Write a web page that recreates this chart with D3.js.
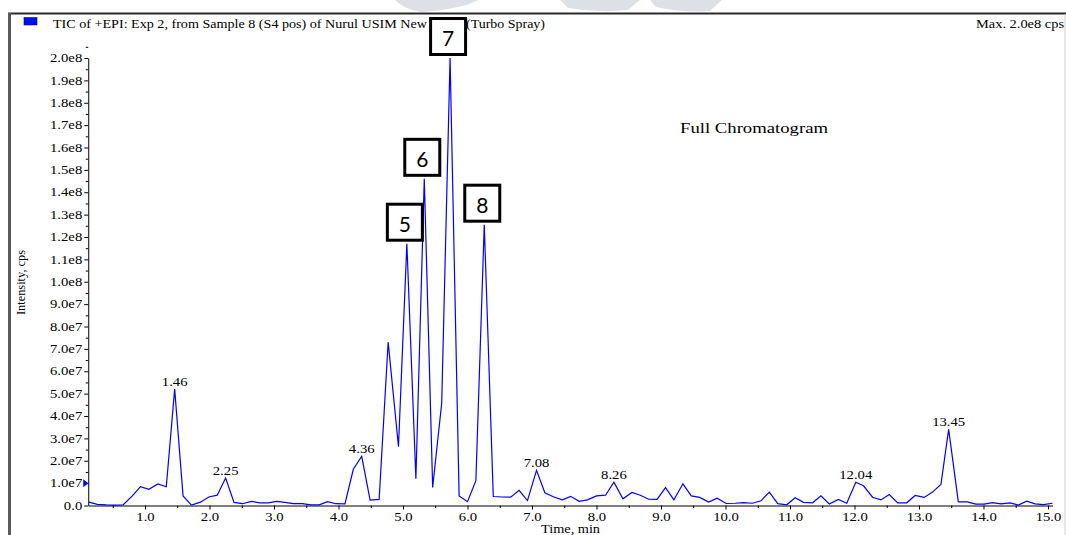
<!DOCTYPE html>
<html>

<head>
    <title>TIC Full Chromatogram</title>
    <script src="https://cdnjs.cloudflare.com/ajax/libs/d3/7.8.5/d3.min.js" type="text/JavaScript"></script>
    <style>
        body { margin: 0; background: #fff; }
        svg { display: block; font-family: "Liberation Serif", "Times New Roman", serif; }
    </style>
</head>

<body>
    <svg id="chart" width="1066" height="535"></svg>
    <script>
        // retention time (min) and intensity (units of 1e7 cps)
        var times = [0.13, 0.26, 0.40, 0.53, 0.66, 0.80, 0.93, 1.06, 1.20, 1.33,
            1.46, 1.59, 1.72, 1.86, 1.99, 2.12, 2.25, 2.38, 2.51, 2.65,
            2.78, 2.91, 3.04, 3.17, 3.30, 3.44, 3.57, 3.70, 3.83, 3.96,
            4.10, 4.23, 4.36, 4.49, 4.63, 4.77, 4.93, 5.06, 5.20, 5.33,
            5.46, 5.60, 5.73, 5.87, 6.00, 6.13, 6.26, 6.40, 6.54, 6.67,
            6.80, 6.93, 7.07, 7.20, 7.33, 7.47, 7.60, 7.73, 7.86, 8.00,
            8.14, 8.27, 8.41, 8.55, 8.68, 8.81, 8.94, 9.07, 9.20, 9.34,
            9.47, 9.60, 9.74, 9.87, 10.01, 10.15, 10.28, 10.42, 10.55, 10.68,
            10.81, 10.95, 11.08, 11.21, 11.35, 11.48, 11.61, 11.75, 11.88, 12.02,
            12.14, 12.28, 12.41, 12.54, 12.67, 12.81, 12.94, 13.08, 13.21, 13.34,
            13.46, 13.61, 13.75, 13.88, 14.01, 14.14, 14.27, 14.41, 14.54, 14.67,
            14.80, 14.93, 15.07]
        var intensity = [0.15, 0.05, 0.03, 0.02, 0.03, 0.42, 0.84, 0.72, 0.96, 0.84,
            5.2, 0.43, 0.02, 0.15, 0.38, 0.46, 1.23, 0.14, 0.08, 0.18,
            0.12, 0.12, 0.18, 0.14, 0.08, 0.08, 0.03, 0.03, 0.17, 0.08,
            0.07, 1.62, 2.2, 0.24, 0.27, 7.3, 2.63, 11.7, 1.2, 14.6,
            0.81, 4.57, 20.0, 0.43, 0.17, 1.11, 12.55, 0.4, 0.38, 0.37,
            0.68, 0.22, 1.57, 0.57, 0.39, 0.25, 0.41, 0.19, 0.25, 0.43,
            0.46, 1.04, 0.3, 0.58, 0.46, 0.28, 0.27, 0.8, 0.25, 0.97,
            0.43, 0.36, 0.15, 0.33, 0.09, 0.1, 0.13, 0.1, 0.21, 0.6,
            0.08, 0.03, 0.35, 0.14, 0.12, 0.43, 0.07, 0.27, 0.1, 1.04,
            0.88, 0.37, 0.25, 0.49, 0.12, 0.12, 0.45, 0.36, 0.6, 0.94,
            3.4, 0.16, 0.16, 0.06, 0.06, 0.13, 0.07, 0.12, 0.02, 0.19,
            0.07, 0.04, 0.1]

        var peakTimes = [1.46, 2.25, 4.36, 7.07, 8.27, 12.02, 13.46]
        var peakLabels = ["1.46", "2.25", "4.36", "7.08", "8.26", "12.04", "13.45"]

        var boxTimes = [5.06, 5.33, 5.73, 6.26]
        var boxLabels = ["5", "6", "7", "8"]

        var yTickValues = [0, 1, 2, 3, 4, 5, 6, 7, 8, 9, 10, 11, 12, 13, 14, 15, 16, 17, 18, 19, 20]
        var yTickLabels = ["0.0", "1.0e7", "2.0e7", "3.0e7", "4.0e7", "5.0e7", "6.0e7", "7.0e7", "8.0e7", "9.0e7",
            "1.0e8", "1.1e8", "1.2e8", "1.3e8", "1.4e8", "1.5e8", "1.6e8", "1.7e8", "1.8e8", "1.9e8", "2.0e8"]
        var xTickValues = [1, 2, 3, 4, 5, 6, 7, 8, 9, 10, 11, 12, 13, 14, 15]
        var xTickLabels = ["1.0", "2.0", "3.0", "4.0", "5.0", "6.0", "7.0", "8.0", "9.0", "10.0",
            "11.0", "12.0", "13.0", "14.0", "15.0"]

        var titleText = "TIC of +EPI: Exp 2, from Sample 8 (S4 pos) of Nurul USIM New"
        var titleTail = "(Turbo Spray)"
        var maxText = "Max. 2.0e8 cps"

        var svg = d3.select("#chart")
        var stretch = 1.28

        var x = d3.scaleLinear().domain([0.12, 15.07]).range([88.24, 1052.5])
        var y = d3.scaleLinear().domain([0, 20]).range([505.5, 58])
        var x0 = x.range()[0]
        var yBase = y(0)

        // faint watermark at the top edge
        var wm = svg.append("g").style("fill", "#dde1e6")
        wm.append("path").attr("d", "M395,0 L478,0 Q462,9 420,12 Q402,8 395,0 Z")
        wm.append("path").attr("d", "M560,0 L640,0 L628,10 Q598,13 568,8 Z")
        wm.append("path").attr("d", "M650,0 L722,0 L710,11 Q684,13 656,7 Z")

        // frame
        svg.append("line").attr("x1", 8).attr("x2", 1066).attr("y1", 13.5).attr("y2", 13.5)
            .style("stroke", "#2a2a2a").style("stroke-width", "2px")
        svg.append("line").attr("x1", 9.5).attr("x2", 9.5).attr("y1", 13).attr("y2", 535)
            .style("stroke", "#5a5a5a").style("stroke-width", "3px")
        svg.append("line").attr("x1", 1065).attr("x2", 1065).attr("y1", 14).attr("y2", 535)
            .style("stroke", "#d0d0d0").style("stroke-width", "1px")

        // header
        svg.append("rect").attr("x", 24).attr("y", 17.5).attr("width", 13).attr("height", 7.5)
            .style("fill", "#0010f5").style("stroke", "#0a0a80").style("stroke-width", "0.6px")
        svg.append("text").attr("x", 53).attr("y", 28).attr("textLength", 374)
            .attr("lengthAdjust", "spacingAndGlyphs").style("font-size", "12.5px").text(titleText)
        svg.append("text").attr("x", 466).attr("y", 28).attr("textLength", 79)
            .attr("lengthAdjust", "spacingAndGlyphs").style("font-size", "12.5px").text(titleTail)
        svg.append("text").attr("x", 976).attr("y", 28).attr("textLength", 88)
            .attr("lengthAdjust", "spacingAndGlyphs").style("font-size", "12.5px").text(maxText)

        svg.append("text").attr("x", 680).attr("y", 133).attr("textLength", 148)
            .attr("lengthAdjust", "spacingAndGlyphs").style("font-size", "15.5px").text("Full Chromatogram")

        // y axis
        var yAxis = d3.axisLeft(y).tickValues(yTickValues)
            .tickFormat((d, i) => yTickLabels[i]).tickSize(4).tickSizeOuter(0)
        var yG = svg.append("g").attr("transform", `translate(${x0},0)`).call(yAxis)
        yG.selectAll("text")
            .attr("x", 0)
            .attr("transform", `translate(-6,0) scale(${stretch},1)`)
        yG.selectAll(".tick").filter(d => d > 0).append("line")
            .attr("x2", -2.5).attr("y1", y(0.5) - y(0)).attr("y2", y(0.5) - y(0))
            .style("stroke", "#000")

        // x axis
        var xAxis = d3.axisBottom(x).tickValues(xTickValues)
            .tickFormat((d, i) => xTickLabels[i]).tickSize(4).tickPadding(3).tickSizeOuter(0)
        var xG = svg.append("g").attr("transform", `translate(0,${yBase})`).call(xAxis)
        xG.selectAll("text").attr("transform", `scale(${stretch},1)`)
        xG.selectAll(".tick").append("line")
            .attr("x1", x(0.5) - x(1)).attr("x2", x(0.5) - x(1)).attr("y2", 2.5)
            .style("stroke", "#000")

        svg.selectAll(".tick text").style("font-family", "'Liberation Serif', serif")
            .style("font-size", "11.5px").style("fill", "#000")

        svg.append("text").attr("x", 541).attr("y", 533).attr("textLength", 59)
            .attr("lengthAdjust", "spacingAndGlyphs").style("font-size", "11.5px").text("Time, min")
        svg.append("text").attr("transform", "translate(24.5,282.5) rotate(-90)")
            .attr("text-anchor", "middle").attr("textLength", 65)
            .attr("lengthAdjust", "spacingAndGlyphs").style("font-size", "11.5px").text("Intensity, cps")

        // marker at 1.0e7
        svg.append("path")
            .attr("d", `M${x0 - 5},${y(1) - 4} L${x0},${y(1)} L${x0 - 5},${y(1) + 4} Z`)
            .style("fill", "#0000ff")

        // trace
        var line = d3.line().x((d, i) => x(times[i])).y(d => y(d))
        svg.append("path").datum(intensity)
            .attr("d", line)
            .style("fill", "none")
            .style("stroke", "#0000ff")
            .style("stroke-width", "1.2px")

        // peak labels
        svg.selectAll("text.peak")
            .data(peakTimes)
            .enter().append("text")
            .attr("class", "peak")
            .attr("text-anchor", "middle")
            .attr("transform", d => `translate(${x(d)},${y(intensity[times.indexOf(d)]) - 3}) scale(${stretch},1)`)
            .style("font-size", "11.5px")
            .style("fill", "#000")
            .text((d, i) => peakLabels[i])

        // numbered boxes on the main peaks
        var boxG = svg.selectAll("g.box")
            .data(boxTimes)
            .enter().append("g")
            .attr("class", "box")
            .attr("transform", d => `translate(${x(d) - 2},${y(intensity[times.indexOf(d)]) - 2})`)

        boxG.append("rect")
            .attr("x", -17.5).attr("y", -37.5).attr("width", 35).attr("height", 36)
            .style("fill", "#fff").style("stroke", "#000").style("stroke-width", "3px")

        boxG.append("text")
            .attr("text-anchor", "middle")
            .attr("y", -10)
            .style("font-family", "Lato, 'Open Sans', sans-serif")
            .style("font-size", "21px")
            .style("fill", "#000")
            .text((d, i) => boxLabels[i])
    </script>
</body>

</html>
